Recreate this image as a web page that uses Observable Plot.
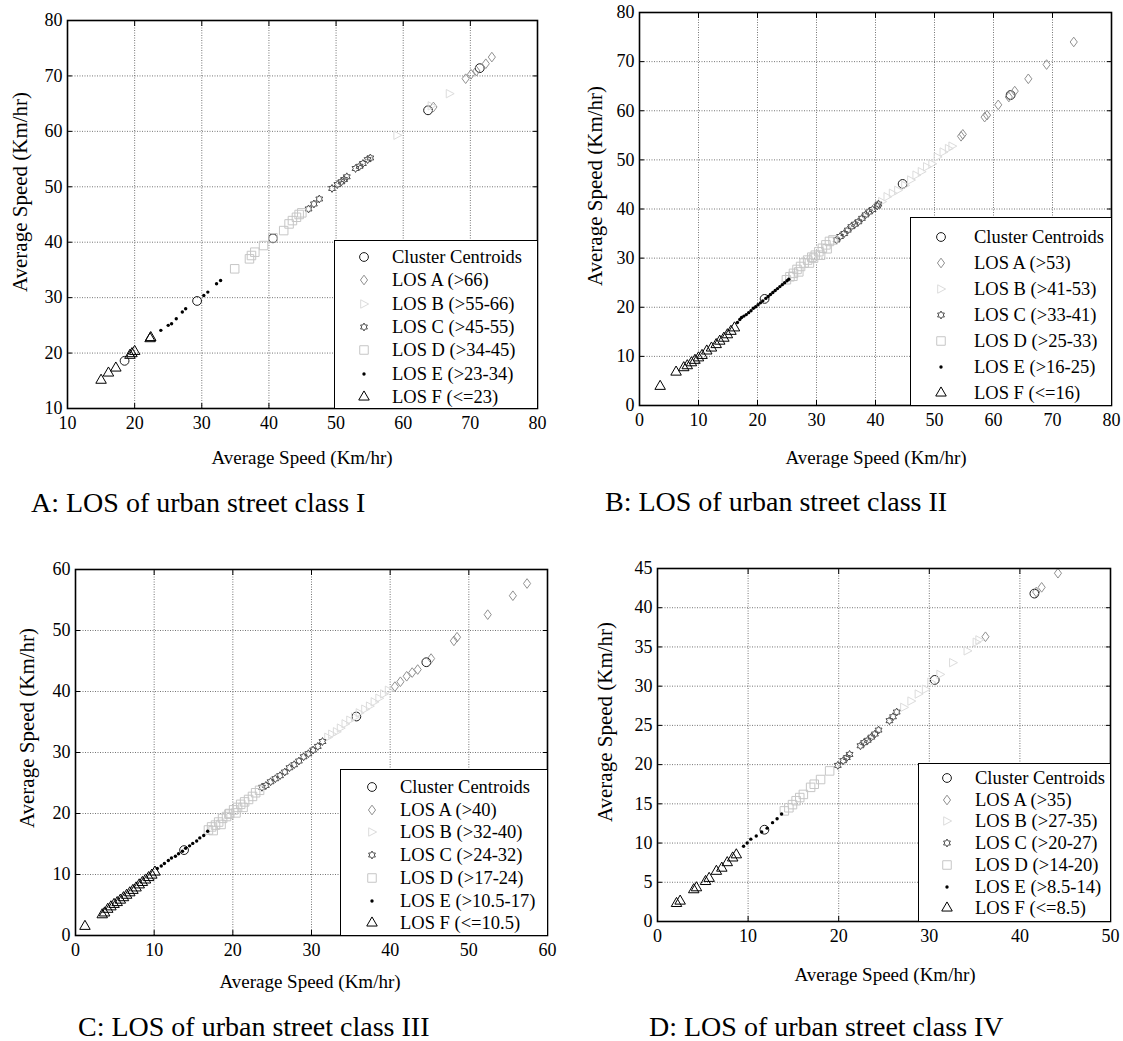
<!DOCTYPE html>
<html>
<head>
<meta charset="utf-8">
<script src="https://cdn.jsdelivr.net/npm/d3@7"></script>
<script src="https://cdn.jsdelivr.net/npm/@observablehq/plot@0.6"></script>
<style>
  html, body { margin: 0; padding: 0; background: #fff; }
  #root { position: relative; width: 1123px; height: 1041px; background: #fff; font-family: "Liberation Serif", serif; color: #000; overflow: hidden; }
  #root svg, #root svg text { font-family: "Liberation Serif", serif !important; }
  .abs { position: absolute; font-family: "Liberation Serif", serif; }
  .xt { font-size: 19px; transform: translate(-50%, -50%); white-space: nowrap; }
  .yt { font-size: 21px; transform: translate(-50%, -50%) rotate(-90deg); white-space: nowrap; }
  .cap { font-size: 28px; transform: translateY(-50%); white-space: nowrap; }
  .legend { border: 1.5px solid #000; background: #fff; box-sizing: border-box; }
  .lrow { position: absolute; font-size: 18.5px; white-space: nowrap; transform: translateY(-50%); }
</style>
</head>
<body>
<div id="root"></div>
<script>
// ---------------- DATA ----------------
const legendNames = ["Cluster Centroids", "LOS A", "LOS B", "LOS C", "LOS D", "LOS E", "LOS F"];
const axisTitle = "Average Speed (Km/hr)";

// Panel A: urban street class I
const A_xTicks = [10, 20, 30, 40, 50, 60, 70, 80];
const A_yTicks = [10, 20, 30, 40, 50, 60, 70, 80];
const A_ranges = ["", "(>66)", "(>55-66)", "(>45-55)", "(>34-45)", "(>23-34)", "(<=23)"];
const A_centroid = [[18.5,18.6],[29.3,29.4],[40.6,40.7],[63.7,63.8],[71.4,71.4]];
const A_losA = [[64.5,64.4],[69.3,69.5],[70.1,70.3],[70.9,70.9],[72.3,72.2],[73.2,73.4]];
const A_losB = [[59.1,59.3],[64.2,64.6],[66.9,66.8]];
const A_losC = [[45.9,46.0],[46.7,46.9],[47.5,47.8],[49.4,49.7],[50.2,50.4],[50.8,50.9],[51.2,51.3],[51.6,51.8],[52.9,53.3],[53.5,53.7],[54.0,54.2],[54.7,54.9],[55.1,55.2]];
const A_losD = [[34.9,35.2],[37.1,37.0],[37.4,37.6],[37.9,38.2],[39.2,39.4],[40.6,40.8],[42.2,42.1],[43.0,43.3],[43.5,43.9],[44.1,44.5],[44.5,45.0],[44.9,45.3]];
const A_losE = [[23.9,24.1],[25.0,25.0],[25.5,25.3],[26.2,26.2],[27.1,27.4],[27.6,28.0],[30.3,30.4],[30.9,31.0],[32.2,32.5],[32.8,33.1]];
const A_losF = [[15.0,15.1],[16.1,16.4],[17.2,17.3],[19.3,19.6],[19.6,19.9],[20.0,20.3],[22.3,22.6],[22.4,22.8]];

// Panel B: urban street class II
const B_xTicks = [0, 10, 20, 30, 40, 50, 60, 70, 80];
const B_yTicks = [0, 10, 20, 30, 40, 50, 60, 70, 80];
const B_ranges = ["", "(>53)", "(>41-53)", "(>33-41)", "(>25-33)", "(>16-25)", "(<=16)"];
const B_centroid = [[21.2,21.7],[44.6,45.1],[62.9,63.2]];
const B_losA = [[54.5,54.8],[54.8,55.2],[58.5,58.7],[58.9,59.1],[60.8,61.2],[62.6,62.8],[63.6,64.0],[65.9,66.5],[69.0,69.4],[73.6,74.0]];
const B_losB = [[41.1,41.5],[42.0,42.5],[42.9,43.2],[43.8,43.8],[45.0,44.8],[46.0,45.9],[46.9,46.9],[47.8,47.6],[48.7,48.6],[49.6,49.2],[50.5,50.6],[51.5,51.6],[52.4,52.3],[53.0,52.8]];
const B_losC = [[33.4,33.7],[34.0,34.4],[34.7,35.0],[35.3,35.7],[35.9,36.4],[36.5,36.9],[37.1,37.4],[37.7,38.1],[38.3,38.8],[38.9,39.4],[39.5,39.9],[40.3,40.6],[40.5,41.0]];
const B_losD = [[24.9,25.6],[25.5,26.2],[26.1,26.9],[26.7,27.7],[27.3,28.3],[27.9,29.0],[28.5,29.6],[29.2,30.2],[29.8,30.6],[30.4,31.3],[31.0,32.0],[31.6,32.7],[32.2,33.4],[32.8,33.7],[27.0,27.2],[28.8,29.0],[29.5,30.0],[30.7,30.6],[26.0,26.3],[31.8,31.9]];
const B_losE = [[16.6,16.9],[17.0,17.5],[17.3,17.9],[17.7,18.2],[18.1,18.5],[18.5,18.9],[18.9,19.3],[19.3,19.8],[19.7,20.1],[20.1,20.5],[20.5,20.9],[20.9,21.3],[21.4,21.8],[21.8,22.2],[22.2,22.6],[22.6,23.0],[23.0,23.4],[23.4,23.8],[23.8,24.2],[24.2,24.6],[24.6,25.0],[25.0,25.4],[25.3,25.7]];
const B_losF = [[3.5,3.9],[6.2,6.8],[7.5,7.7],[8.1,8.1],[8.8,8.7],[9.4,9.2],[10.0,9.7],[10.6,10.2],[11.4,11.1],[12.2,11.7],[13.0,12.4],[13.6,13.1],[14.3,13.7],[14.9,14.4],[15.5,15.1],[16.1,15.8]];

// Panel C: urban street class III
const C_xTicks = [0, 10, 20, 30, 40, 50, 60];
const C_yTicks = [0, 10, 20, 30, 40, 50, 60];
const C_ranges = ["", "(>40)", "(>32-40)", "(>24-32)", "(>17-24)", "(>10.5-17)", "(<=10.5)"];
const C_centroid = [[13.8,14.0],[35.7,35.9],[44.6,44.8]];
const C_losA = [[40.6,40.8],[41.3,41.6],[42.1,42.5],[42.8,43.1],[43.5,43.6],[45.2,45.4],[48.1,48.3],[48.5,48.9],[52.4,52.6],[55.6,55.7],[57.4,57.7]];
const C_losB = [[32.1,32.5],[32.6,33.0],[33.2,33.4],[33.7,34.0],[34.3,34.7],[34.9,35.3],[35.5,35.8],[36.1,36.5],[36.8,37.1],[37.4,37.6],[38.0,38.3],[38.6,38.9],[39.2,39.6],[39.8,40.2]];
const C_losC = [[23.7,24.3],[24.2,24.6],[24.8,25.2],[25.4,25.7],[26.0,26.2],[26.6,26.8],[27.2,27.5],[27.8,28.0],[28.4,28.6],[29.0,29.3],[29.6,29.8],[30.2,30.4],[30.8,31.0],[31.4,31.8]];
const C_losD = [[16.9,17.3],[17.3,17.8],[17.8,18.1],[18.2,18.6],[18.7,19.2],[19.2,19.5],[19.6,20.0],[20.1,20.6],[20.6,21.0],[21.0,21.5],[21.5,21.9],[22.0,22.3],[22.5,22.8],[22.9,23.4],[23.4,23.8],[17.5,17.2],[18.5,18.2],[19.5,19.9],[20.4,20.1],[21.3,21.0]];
const C_losE = [[10.4,11.0],[10.9,11.4],[11.3,11.8],[11.8,12.3],[12.2,12.7],[12.7,13.0],[13.1,13.4],[13.6,13.8],[14.0,14.3],[14.5,14.7],[14.9,15.1],[15.4,15.5],[15.8,16.0],[16.3,16.4],[16.8,17.1]];
const C_losF = [[1.2,1.5],[3.4,3.4],[3.7,3.7],[4.1,4.3],[4.5,4.7],[4.9,5.1],[5.3,5.4],[5.7,5.8],[6.1,6.2],[6.5,6.6],[6.9,7.0],[7.3,7.4],[7.7,7.8],[8.1,8.3],[8.5,8.7],[8.9,9.1],[9.3,9.5],[9.7,9.9],[10.1,10.4]];

// Panel D: urban street class IV
const D_xTicks = [0, 10, 20, 30, 40, 50];
const D_yTicks = [0, 5, 10, 15, 20, 25, 30, 35, 40, 45];
const D_ranges = ["", "(>35)", "(>27-35)", "(>20-27)", "(>14-20)", "(>8.5-14)", "(<=8.5)"];
const D_centroid = [[11.8,11.7],[30.6,30.8],[41.6,41.8]];
const D_losA = [[36.2,36.3],[41.8,42.0],[42.4,42.6],[44.2,44.4]];
const D_losB = [[27.2,27.3],[28.0,28.1],[28.8,29.0],[29.6,29.6],[30.2,30.5],[31.2,31.5],[32.6,33.0],[34.2,34.5],[35.2,35.6],[35.5,35.9]];
const D_losC = [[19.9,19.9],[20.5,20.5],[20.9,20.9],[21.2,21.3],[22.4,22.4],[22.8,22.8],[23.2,23.1],[23.6,23.5],[24.0,23.9],[24.4,24.4],[25.6,25.6],[26.0,26.1],[26.4,26.7]];
const D_losD = [[14.0,14.1],[14.5,14.5],[14.9,14.9],[15.3,15.4],[15.7,15.8],[16.1,16.2],[16.9,17.1],[17.3,17.5],[18.0,18.1],[19.0,19.2]];
const D_losE = [[9.5,9.6],[9.9,10.0],[10.3,10.5],[10.9,10.9],[11.5,11.4],[12.1,11.9],[12.7,12.6],[13.2,13.1],[13.7,13.7]];
const D_losF = [[2.1,2.3],[2.5,2.6],[4.0,4.05],[4.3,4.3],[5.3,5.1],[5.7,5.5],[6.5,6.4],[7.1,6.8],[7.7,7.5],[8.3,8.1],[8.7,8.5]];

const captions = ["A: LOS of urban street class I", "B: LOS of urban street class II", "C: LOS of urban street class III", "D: LOS of urban street class IV"];

// ---------------- SYMBOLS / STYLES ----------------
const rightTriangle = { draw(ctx, size) { const r = Math.sqrt(size / Math.PI); ctx.moveTo(r * 1.05, 0); ctx.lineTo(-r * 0.75, -r * 0.95); ctx.lineTo(-r * 0.75, r * 0.95); ctx.closePath(); } };
const hexagram = { draw(ctx, size) { const R = Math.sqrt(size / Math.PI) * 1.1, ri = R / Math.sqrt(3);
  for (let i = 0; i < 12; i++) { const a = -Math.PI / 2 + i * Math.PI / 6, rr = i % 2 === 0 ? R : ri;
    const x = rr * Math.cos(a), y = rr * Math.sin(a); if (i) ctx.lineTo(x, y); else ctx.moveTo(x, y); } ctx.closePath(); } };
const diamond = { draw(ctx, size) { const r = Math.sqrt(size / Math.PI); ctx.moveTo(0, -r * 1.15); ctx.lineTo(r * 0.85, 0); ctx.lineTo(0, r * 1.15); ctx.lineTo(-r * 0.85, 0); ctx.closePath(); } };

const classStyles = [
  { symbol: d3.symbolCircle,   stroke: "#1a1a1a", fill: "none", r: 4.4, sw: 1 },
  { symbol: diamond,           stroke: "#909090", fill: "none", r: 4.2, sw: 1 },
  { symbol: rightTriangle,     stroke: "#dcdcdc", fill: "none", r: 4.4, sw: 1 },
  { symbol: hexagram,          stroke: "#4d4d4d", fill: "none", r: 3.6, sw: 1 },
  { symbol: d3.symbolSquare,   stroke: "#c6c6c6", fill: "none", r: 4.8, sw: 1 },
  { symbol: d3.symbolCircle,   stroke: "none",    fill: "#000", r: 1.7, sw: 0 },
  { symbol: d3.symbolTriangle, stroke: "#000",    fill: "none", r: 3.9, sw: 1 }
];

// ---------------- LAYOUT (page pixels) ----------------
const panels = [
  { data: [A_centroid, A_losA, A_losB, A_losC, A_losD, A_losE, A_losF], xTicks: A_xTicks, yTicks: A_yTicks, ranges: A_ranges,
    svg: { left: 0, top: 0, width: 562, height: 440 }, frame: { L: 67, R: 537, T: 20, B: 408 },
    legend: { L: 334, T: 240, sx: 364, tx: 392, y0: 257, dy: 23.3 },
    xt: { x: 302, y: 458 }, yt: { x: 20, y: 192 }, cap: { x: 31, y: 503 } },
  { data: [B_centroid, B_losA, B_losB, B_losC, B_losD, B_losE, B_losF], xTicks: B_xTicks, yTicks: B_yTicks, ranges: B_ranges,
    svg: { left: 562, top: 0, width: 561, height: 440 }, frame: { L: 639, R: 1111, T: 12, B: 405 },
    legend: { L: 910, T: 217, sx: 941, tx: 974, y0: 237, dy: 26 },
    xt: { x: 876, y: 458 }, yt: { x: 595, y: 186 }, cap: { x: 605, y: 502 } },
  { data: [C_centroid, C_losA, C_losB, C_losC, C_losD, C_losE, C_losF], xTicks: C_xTicks, yTicks: C_yTicks, ranges: C_ranges,
    svg: { left: 0, top: 540, width: 562, height: 430 }, frame: { L: 75, R: 547, T: 569, B: 935 },
    legend: { L: 340, T: 769, sx: 372, tx: 400, y0: 787, dy: 22.7 },
    xt: { x: 310, y: 982 }, yt: { x: 27, y: 728 }, cap: { x: 78, y: 1027 } },
  { data: [D_centroid, D_losA, D_losB, D_losC, D_losD, D_losE, D_losF], xTicks: D_xTicks, yTicks: D_yTicks, ranges: D_ranges,
    svg: { left: 562, top: 540, width: 561, height: 430 }, frame: { L: 657, R: 1110, T: 568, B: 921 },
    legend: { L: 918, T: 763, sx: 947, tx: 975, y0: 778, dy: 21.7 },
    xt: { x: 885, y: 975 }, yt: { x: 605, y: 722 }, cap: { x: 649, y: 1027 } }
];

const root = document.getElementById("root");
function addDiv(cls, x, y, text, extra) {
  const d = document.createElement("div");
  d.className = "abs " + cls; d.style.left = x + "px"; d.style.top = y + "px";
  if (text != null) d.textContent = text;
  if (extra) Object.assign(d.style, extra);
  root.appendChild(d); return d;
}

const gridStyle = { stroke: "#3a3a3a", strokeOpacity: 1, strokeWidth: 0.7, strokeDasharray: "1,1.5" };
panels.forEach((p, pi) => {
  const f = p.frame, s = p.svg;
  const blank = () => "";
  const marks = [
    Plot.gridX(p.xTicks, gridStyle),
    Plot.gridY(p.yTicks, gridStyle),
    Plot.axisX({ ticks: p.xTicks, tickSize: -5, tickPadding: 13, label: null, strokeWidth: 1 }),
    Plot.axisY({ ticks: p.yTicks, tickSize: -5, tickPadding: 10, label: null, strokeWidth: 1 }),
    Plot.axisX({ anchor: "top", ticks: p.xTicks, tickSize: -5, tickFormat: blank, label: null, strokeWidth: 1 }),
    Plot.axisY({ anchor: "right", ticks: p.yTicks, tickSize: -5, tickFormat: blank, label: null, strokeWidth: 1 })
  ];
  p.data.forEach((arr, ci) => {
    const st = classStyles[ci];
    marks.push(Plot.dot(arr, { x: d => d[0], y: d => d[1], symbol: st.symbol, r: st.r,
      stroke: st.stroke, fill: st.fill, strokeWidth: st.sw }));
  });
  marks.push(Plot.frame({ stroke: "#000", strokeWidth: 1.6 }));
  const chart = Plot.plot({
    width: s.width, height: s.height,
    marginLeft: f.L - s.left, marginRight: s.left + s.width - f.R,
    marginTop: f.T - s.top, marginBottom: s.top + s.height - f.B,
    x: { domain: [p.xTicks[0], p.xTicks[p.xTicks.length - 1]] },
    y: { domain: [p.yTicks[0], p.yTicks[p.yTicks.length - 1]] },
    style: { fontFamily: "\"Liberation Serif\", serif", fontSize: "18px", background: "transparent", color: "#000", overflow: "visible" },
    marks
  });
  chart.style.position = "absolute"; chart.style.left = s.left + "px"; chart.style.top = s.top + "px";
  root.appendChild(chart);

  // legend box
  const lg = p.legend;
  addDiv("legend", lg.L, lg.T, null, { width: (f.R - lg.L + 1) + "px", height: (f.B - lg.T + 1) + "px" });
  legendNames.forEach((name, ci) => {
    const st = classStyles[ci];
    const y = lg.y0 + ci * lg.dy;
    const ns = "http://www.w3.org/2000/svg";
    const sv = document.createElementNS(ns, "svg");
    sv.setAttribute("width", 20); sv.setAttribute("height", 20);
    sv.style.position = "absolute"; sv.style.left = (lg.sx - 10) + "px"; sv.style.top = (y - 10) + "px";
    const path = document.createElementNS(ns, "path");
    path.setAttribute("d", d3.symbol(st.symbol, st.r * st.r * Math.PI)());
    path.setAttribute("transform", "translate(10,10)");
    path.setAttribute("stroke", st.stroke); path.setAttribute("fill", st.fill);
    path.setAttribute("stroke-width", st.sw);
    sv.appendChild(path); root.appendChild(sv);
    addDiv("lrow", lg.tx, y, ci === 0 ? name : name + " " + p.ranges[ci]);
  });

  addDiv("xt", p.xt.x, p.xt.y, axisTitle);
  addDiv("yt", p.yt.x, p.yt.y, axisTitle);
  addDiv("cap", p.cap.x, p.cap.y, captions[pi]);
});
</script>
</body>
</html>
